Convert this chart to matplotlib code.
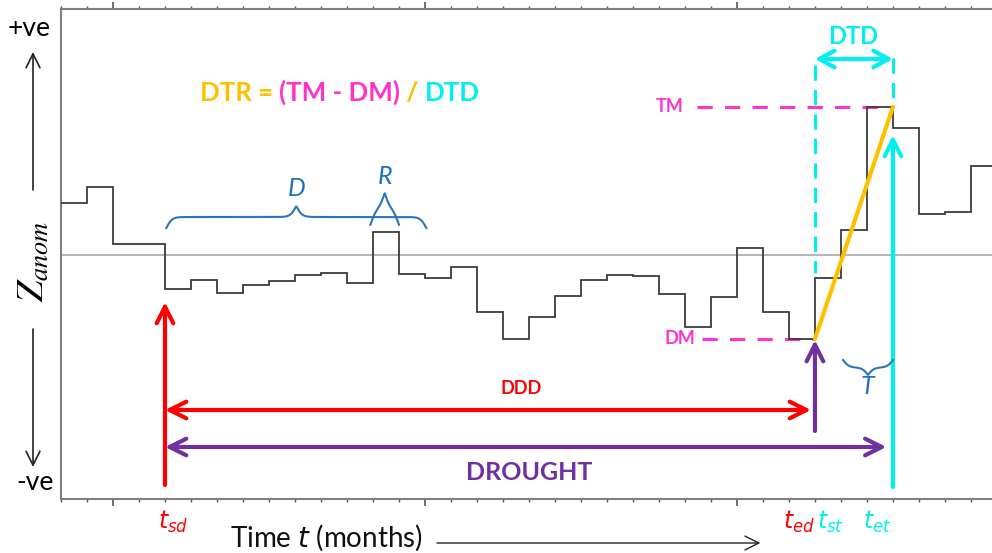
import numpy as np
import matplotlib
matplotlib.use("Agg")
import matplotlib.pyplot as plt
from matplotlib.ticker import MultipleLocator

plt.rcParams['font.family'] = ['Lato', 'DejaVu Sans']
plt.rcParams['mathtext.fontset'] = 'stix'

# monthly anomaly values (one step per month)
z_anom = [5.2, 6.8, 1.1, 1.1, -3.4, -2.5, -3.8, -3.0, -2.6, -2.0, -1.8, -2.8,
          2.3, -1.9, -2.3, -1.2, -5.7, -8.4, -6.2, -4.1, -2.5, -2.0, -2.1, -3.9,
          -7.2, -4.2, 0.7, -5.7, -8.4, -2.3, 2.5, 14.8, 12.7, 4.1, 4.3, 8.9]
months = np.arange(len(z_anom) + 1)

# key times (months) and levels
t_sd, t_ed, t_st, t_et = 4, 29, 29, 32
DM, TM = -8.4, 14.8

ORANGE = '#FFC000'
MAGENTA = '#FF33CC'
CYAN = '#00F0F0'
RED = '#FF0000'
PURPLE = '#7030A0'
BLUE = '#2E75B6'
LBLUE = '#1F6FC0'

fig = plt.figure(figsize=(9.92, 5.53), dpi=100)
ax = fig.add_axes([61 / 992, 1 - 499 / 553, 1 - 61 / 992, (499 - 9) / 553])
ax.set_xlim(0, 35.81)
ax.set_ylim(-24.4, 24.6)

for s in ['left', 'top', 'bottom']:
    ax.spines[s].set_color('#7f7f7f')
    ax.spines[s].set_linewidth(1.5)
ax.spines['right'].set_visible(False)
ax.xaxis.set_minor_locator(MultipleLocator(1))
ax.set_xticks([2, 14, 26])
ax.tick_params(axis='x', which='both', top=True, bottom=True, direction='out',
               labelbottom=False, colors='#555555')
ax.tick_params(axis='x', which='major', length=5, width=1.2)
ax.tick_params(axis='x', which='minor', length=2, width=1)
ax.set_yticks([])

# zero line and series
ax.axhline(0, color='#a0a0a0', lw=1.1, zorder=1)
ax.stairs(z_anom, months, baseline=None, color='#3c3c3c', lw=1.3, zorder=3)

# DM / TM dashed guides
ax.plot([24.65, t_ed], [DM, DM], color=MAGENTA, lw=2.2, ls=(0, (5, 4)), zorder=2)
ax.plot([24.46, t_et], [TM, TM], color=MAGENTA, lw=2.2, ls=(0, (5, 4)), zorder=2)
ax.text(23.8, DM, 'DM', color=MAGENTA, fontsize=13, fontweight='bold', ha='center', va='center')
ax.text(23.4, TM, 'TM', color=MAGENTA, fontsize=13, fontweight='bold', ha='center', va='center')

# cyan dashed verticals + DTD
ax.plot([t_st, t_st], [19.0, -1.8], color=CYAN, lw=2.2, ls=(0, (5, 3)), zorder=2)
ax.plot([t_et, t_et], [19.7, TM], color=CYAN, lw=2.2, ls=(0, (5, 3)), zorder=2)
ax.annotate('', xy=(t_et, 19.6), xytext=(t_st, 19.6),
            arrowprops=dict(arrowstyle='<->,head_length=0.55,head_width=0.3', lw=3,
                            color=CYAN, shrinkA=0, shrinkB=0, mutation_scale=20))
ax.text(30.46, 21.9, 'DTD', color=CYAN, fontsize=17, fontweight='bold', ha='center', va='center')

# recovery slope
ax.plot([t_ed, t_et], [DM, TM], color=ORANGE, lw=3, zorder=4, solid_capstyle='round')

# vertical arrows
arr = dict(arrowstyle='->,head_length=0.6,head_width=0.3', lw=3, shrinkA=0, shrinkB=0,
           mutation_scale=20)
ax.annotate('', xy=(t_sd, -4.7), xytext=(t_sd, -23.0), arrowprops=dict(arr, color=RED))
ax.annotate('', xy=(t_ed, -8.5), xytext=(t_ed, -17.6), arrowprops=dict(arr, color=PURPLE))
ax.annotate('', xy=(t_et, 12.0), xytext=(t_et, -23.2), arrowprops=dict(arr, color=CYAN))

# horizontal double arrows
dbl = dict(arr, arrowstyle='<->,head_length=0.6,head_width=0.3')
ax.annotate('', xy=(28.85, -15.5), xytext=(t_sd, -15.5), arrowprops=dict(dbl, color=RED))
ax.annotate('', xy=(31.75, -19.2), xytext=(t_sd, -19.2), arrowprops=dict(dbl, color=PURPLE))
ax.text(17.7, -13.3, 'DDD', color=RED, fontsize=13, fontweight='bold', ha='center', va='center')
ax.text(18.0, -21.8, 'DROUGHT', color=PURPLE, fontsize=18, fontweight='bold', ha='center', va='center')


def brace(x0, x1, y, h, color, lw=1.5):
    # curly brace from x0 to x1 at base y, pointing in direction of h
    xs = np.linspace(x0, x1, 400)
    mid = (x0 + x1) / 2
    beta = 9.0
    half = xs <= mid
    ys = np.where(half,
                  1 / (1 + np.exp(-beta * (xs - x0))) + 1 / (1 + np.exp(-beta * (xs - mid))),
                  1 / (1 + np.exp(-beta * (x1 - xs))) + 1 / (1 + np.exp(-beta * (mid - xs))))
    ys = (ys - 0.5) * h
    ax.plot(xs, y + ys, color=color, lw=lw, zorder=3)


brace(4.05, 14.05, 2.7, 2.2, BLUE)
brace(11.9, 13.0, 3.0, 3.2, BLUE)
brace(30.08, 32.0, -10.5, -1.5, BLUE)
ax.text(9.08, 6.7, 'D', color=LBLUE, fontsize=18, style='italic', ha='center', va='center')
ax.text(12.46, 7.9, 'R', color=LBLUE, fontsize=18, style='italic', ha='center', va='center')
ax.text(31.0, -13.2, 'T', color=LBLUE, fontsize=18, style='italic', ha='center', va='center')

# formula
t1 = ax.text(5.35, 16.2, 'DTR = ', color=ORANGE, fontsize=18.6, fontweight='bold', va='center')
t2 = ax.annotate('(TM - DM)', xy=(1, 0), xycoords=t1, va='bottom', color=MAGENTA,
                 fontsize=18.6, fontweight='bold')
t3 = ax.annotate(' / ', xy=(1, 0), xycoords=t2, va='bottom', color=ORANGE,
                 fontsize=18.6, fontweight='bold')
ax.annotate('DTD', xy=(1, 0), xycoords=t3, va='bottom', color=CYAN,
            fontsize=18.6, fontweight='bold')

# time labels below the axis
for x, lab, col in [(4.3, '$t_{sd}$', RED), (28.4, '$t_{ed}$', RED),
                    (29.6, '$t_{st}$', CYAN), (31.4, '$t_{et}$', CYAN)]:
    ax.text(x, -26.7, lab, color=col, fontsize=17, ha='center', va='center',
            clip_on=False, math_fontfamily='dejavusans')

ax.text(10.2, -28.3, 'Time $t$ (months)', fontsize=20, ha='center', va='center',
        clip_on=False, math_fontfamily='dejavusans', color='#111111')
ax.annotate('', xy=(26.9, -28.8), xytext=(14.46, -28.8), annotation_clip=False,
            arrowprops=dict(arrowstyle='->,head_length=0.5,head_width=0.25', lw=1,
                            color='#222222', shrinkA=0, shrinkB=0, mutation_scale=20))

# left-hand labels
fig.text(29 / 992, 1 - 28 / 553, '+ve', fontsize=19, ha='center', va='center')
fig.text(35 / 992, 1 - 483 / 553, '-ve', fontsize=19, ha='center', va='center')
fig.text(33 / 992, 1 - 262 / 553, r'$Z_{anom}$', fontsize=27, rotation=90,
         ha='center', va='center')
ax.annotate('', xy=(33, 553 - 52), xytext=(33, 553 - 190), xycoords='figure pixels',
            arrowprops=dict(arrowstyle='->,head_length=0.5,head_width=0.25', lw=1.2,
                            color='#222222', shrinkA=0, shrinkB=0, mutation_scale=20))
ax.annotate('', xy=(33, 553 - 467), xytext=(33, 553 - 329), xycoords='figure pixels',
            arrowprops=dict(arrowstyle='->,head_length=0.5,head_width=0.25', lw=1.2,
                            color='#222222', shrinkA=0, shrinkB=0, mutation_scale=20))

fig.savefig('out.png', dpi=100)
